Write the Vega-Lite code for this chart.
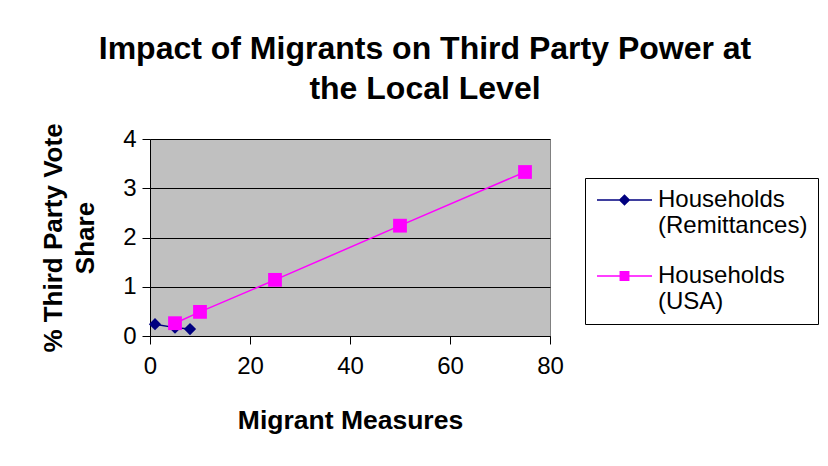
{
  "$schema": "https://vega.github.io/schema/vega-lite/v6.json",
  "width": 400,
  "height": 197,
  "autosize": "none",
  "padding": {"left": 150, "top": 139, "right": 278, "bottom": 130},
  "background": "white",
  "title": {
    "text": ["Impact of Migrants on Third Party Power at", "the Local Level"],
    "font": "Liberation Sans",
    "fontSize": 32,
    "fontWeight": "bold",
    "color": "black",
    "lineHeight": 40,
    "anchor": "middle",
    "dx": 75,
    "offset": 17
  },
  "data": {
    "values": [
      {"series": "Households|(Remittances)", "x": 1, "y": 0.24},
      {"series": "Households|(Remittances)", "x": 5, "y": 0.17},
      {"series": "Households|(Remittances)", "x": 8, "y": 0.14},
      {"series": "Households|(USA)", "x": 5, "y": 0.26},
      {"series": "Households|(USA)", "x": 10, "y": 0.49},
      {"series": "Households|(USA)", "x": 25, "y": 1.14},
      {"series": "Households|(USA)", "x": 50, "y": 2.24},
      {"series": "Households|(USA)", "x": 75, "y": 3.33}
    ]
  },
  "encoding": {
    "x": {
      "field": "x", "type": "quantitative",
      "scale": {"domain": [0, 80], "nice": false},
      "axis": {
        "values": [0, 20, 40, 60, 80],
        "title": "Migrant Measures",
        "titleFont": "Liberation Sans", "titleFontSize": 26.5, "titleFontWeight": "bold", "titleColor": "black",
        "titlePadding": 29,
        "labelFont": "Liberation Sans", "labelFontSize": 24, "labelColor": "black", "labelPadding": 10,
        "grid": false, "domainColor": "black", "tickColor": "black", "tickSize": 8, "labelFlush": false
      }
    },
    "y": {
      "field": "y", "type": "quantitative",
      "scale": {"domain": [0, 4], "nice": false},
      "axis": {
        "values": [0, 1, 2, 3, 4],
        "title": ["% Third Party Vote", "Share"],
        "titleFont": "Liberation Sans", "titleFontSize": 26, "titleFontWeight": "bold", "titleColor": "black",
        "titleLineHeight": 32,
        "titlePadding": 24,
        "labelFont": "Liberation Sans", "labelFontSize": 24, "labelColor": "black", "labelPadding": 6,
        "grid": true, "gridColor": "black", "gridOpacity": 1,
        "domainColor": "black", "tickColor": "black", "tickSize": 8, "labelFlush": false
      }
    },
    "color": {
      "field": "series", "type": "nominal",
      "scale": {"domain": ["Households|(Remittances)", "Households|(USA)"], "range": ["#000080", "#FF00FF"]},
      "legend": {
        "orient": "none",
        "legendX": 435,
        "legendY": 39,
        "title": null,
        "strokeColor": "black",
        "fillColor": "white",
        "padding": 10,
        "labelExpr": "split(datum.label, '|')",
        "labelFont": "Liberation Sans",
        "labelFontSize": 24,
        "labelColor": "black",
        "labelLimit": 300,
        "labelLineHeight": 32,
        "labelOffset": 21.5,
        "symbolSize": 400,
        "symbolOffset": 17.5,
        "symbolStrokeWidth": 1.5,
        "symbolType": "M-2.75,0H2.75",
        "rowPadding": 26,
        "encode": {
          "symbols": {
            "update": {
              "shape": {"signal": "datum.value == 'Households|(USA)' ? 'M-2.75,0H2.75M-0.42,-0.42H0.42V0.42H-0.42Z' : 'M-2.75,0H2.75M0,-0.47L0.47,0L0,0.47L-0.47,0Z'"},
              "size": {"value": 400},
              "strokeWidth": {"value": 1.5},
              "fill": {"signal": "datum.value == 'Households|(USA)' ? '#FF00FF' : '#000080'"},
              "stroke": {"signal": "datum.value == 'Households|(USA)' ? '#FF00FF' : '#000080'"},
              "opacity": {"value": 1},
              "fillOpacity": {"value": 1},
              "strokeOpacity": {"value": 1}
            }
          }
        }
      }
    }
  },
  "layer": [
    {"mark": {"type": "line", "strokeWidth": 1.5}},
    {
      "transform": [{"filter": "datum.series == 'Households|(Remittances)'"}],
      "mark": {"type": "point", "filled": true, "opacity": 1, "shape": "diamond", "size": 150}
    },
    {
      "transform": [{"filter": "datum.series == 'Households|(USA)'"}],
      "mark": {"type": "point", "filled": true, "opacity": 1, "shape": "square", "size": 190}
    }
  ],
  "config": {
    "view": {"fill": "#C0C0C0", "stroke": "#808080", "strokeWidth": 1},
    "axis": {"domainWidth": 1, "tickWidth": 1, "gridWidth": 1}
  }
}
